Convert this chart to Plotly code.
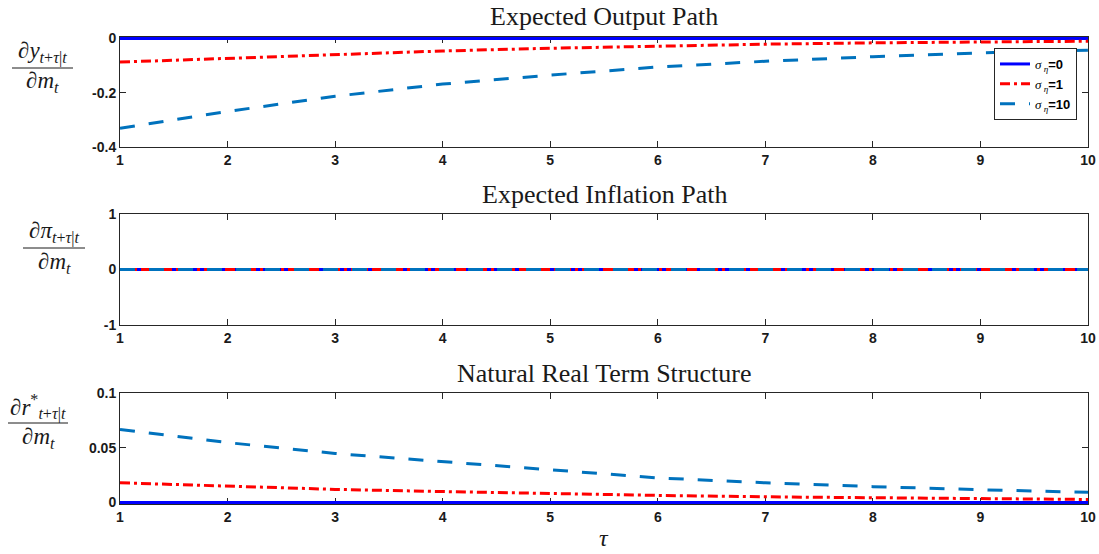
import plotly.graph_objects as go

# Horizon of the forecast
tau = [1, 2, 3, 4, 5, 6, 7, 8, 9, 10]

# Expected output path responses
output_s0 = [0, 0, 0, 0, 0, 0, 0, 0, 0, 0]
output_s1 = [-0.087, -0.074, -0.059, -0.046, -0.036, -0.028, -0.021, -0.016, -0.012, -0.010]
output_s10 = [-0.331, -0.269, -0.213, -0.168, -0.135, -0.105, -0.084, -0.067, -0.053, -0.043]

# Expected inflation path responses
infl_s0 = [0, 0, 0, 0, 0, 0, 0, 0, 0, 0]
infl_s1 = [0, 0, 0, 0, 0, 0, 0, 0, 0, 0]
infl_s10 = [0, 0, 0, 0, 0, 0, 0, 0, 0, 0]

# Natural real term structure responses
rstar_s0 = [0, 0, 0, 0, 0, 0, 0, 0, 0, 0]
rstar_s1 = [0.018, 0.015, 0.012, 0.010, 0.008, 0.0065, 0.0052, 0.0042, 0.0034, 0.0028]
rstar_s10 = [0.0667, 0.0547, 0.0448, 0.0372, 0.0300, 0.0225, 0.0180, 0.0145, 0.0117, 0.0093]

SIG = '<span style="font-family:Liberation Serif"><i>σ</i></span>'
ETA = '<sub><span style="font-family:Liberation Serif"><i> η</i></span></sub>'
legend_labels = [SIG + ETA + "<b>=0</b>", SIG + ETA + "<b>=1</b>", SIG + ETA + "<b>=10</b>"]

W, H = 1099, 554
ML, MR, MT, MB = 120, 11, 37, 50
PW = W - ML - MR
PH = H - MT - MB


def px(xp):
    return (xp - ML) / PW


def py(yp):
    return (H - MB - yp) / PH


styles = [
    dict(color="#0000ff", width=3),
    dict(color="#ff0000", width=3, dash="10px,4px,3px,4px"),
    dict(color="#0072bd", width=3, dash="15px,14px"),
]

panels = [
    ([output_s0, output_s1, output_s10], "", ""),
    ([infl_s0, infl_s1, infl_s10], "2", "2"),
    ([rstar_s0, rstar_s1, rstar_s10], "3", "3"),
]

fig = go.Figure()
for p_i, (series, xs, ys) in enumerate(panels):
    for s_i, vals in enumerate(series):
        fig.add_trace(go.Scatter(
            x=tau, y=vals, mode="lines",
            name=legend_labels[s_i],
            line=styles[s_i],
            showlegend=(p_i == 0),
            xaxis="x" + xs, yaxis="y" + ys,
        ))

frame = "#262626"
tickfont = dict(family="Liberation Sans", size=14, color="#1a1a1a", weight="bold")


def xax(anchor):
    return dict(
        range=[1, 10], tickvals=tau, ticktext=[str(t) for t in tau],
        ticks="inside", ticklen=6, tickcolor=frame, showline=True,
        linecolor=frame, linewidth=1, mirror="ticks", showgrid=False,
        zeroline=False, tickfont=tickfont, anchor=anchor,
        layer="below traces", domain=[0, 1], automargin=False,
    )


def yax(rng, vals, text, dom, anchor):
    return dict(
        range=rng, tickvals=vals, ticktext=text, ticks="inside", ticklen=6,
        tickcolor=frame, showline=True, linecolor=frame, linewidth=1,
        mirror="ticks", showgrid=False, zeroline=False, tickfont=tickfont,
        domain=dom, anchor=anchor, layer="below traces", automargin=False,
    )


fig.update_layout(
    width=W, height=H,
    margin=dict(l=ML, r=MR, t=MT, b=MB, autoexpand=False),
    paper_bgcolor="white", plot_bgcolor="white",
    xaxis=xax("y"), xaxis2=xax("y2"), xaxis3=xax("y3"),
    yaxis=yax([-0.4, 0.0055], [0, -0.2, -0.4], ["0", "-0.2", "-0.4"],
              [py(147), 1.0], "x"),
    yaxis2=yax([-1, 1], [1, 0, -1], ["1", "0", "-1"], [py(325), py(214)], "x2"),
    yaxis3=yax([-0.00135, 0.1], [0, 0.05, 0.1], ["0", "0.05", "0.1"],
               [0, py(393)], "x3"),
    legend=dict(
        x=px(1077), y=py(48), xanchor="right", yanchor="top",
        bgcolor="white", bordercolor=frame, borderwidth=1,
        font=dict(family="Liberation Sans", size=13, color="black"),
        tracegroupgap=0,
    ),
    showlegend=True,
)

serif = "Liberation Serif"
annots = []

# Panel titles
for text, yc in [("Expected Output Path", 17),
                 ("Expected Inflation Path", 194),
                 ("Natural Real Term Structure", 373)]:
    annots.append(dict(text=text, x=px(604), y=py(yc), xref="paper", yref="paper",
                       showarrow=False, xanchor="center", yanchor="middle",
                       font=dict(family=serif, size=26, color="#1a1a1a")))

# Horizon axis label
annots.append(dict(text="<i>τ</i>", x=px(604), y=py(538), xref="paper", yref="paper",
                   showarrow=False, xanchor="center", yanchor="middle",
                   font=dict(family=serif, size=24, color="#1a1a1a")))

# Fraction-style y labels
fracs = [
    ("∂<i>y</i><sub><i>t</i>+<i>τ</i>|<i>t</i></sub>", 42, 52, 68, 82, 12, 73),
    ("∂<i>π</i><sub><i>t</i>+<i>τ</i>|<i>t</i></sub>", 54, 232, 248, 263, 23, 85),
    ("∂<i>r</i><sup>*</sup><sub><i>t</i>+<i>τ</i>|<i>t</i></sub>", 38, 407, 423, 438, 8, 68),
]
shapes = []
for num, xc, yn, yl, yd, x0, x1 in fracs:
    annots.append(dict(text=num, x=px(xc), y=py(yn), xref="paper", yref="paper",
                       showarrow=False, xanchor="center", yanchor="middle",
                       font=dict(family=serif, size=23, color="#1a1a1a")))
    annots.append(dict(text="∂<i>m</i><sub><i>t</i></sub>", x=px(xc), y=py(yd),
                       xref="paper", yref="paper", showarrow=False,
                       xanchor="center", yanchor="middle",
                       font=dict(family=serif, size=23, color="#1a1a1a")))
    shapes.append(dict(type="line", xref="paper", yref="paper",
                       x0=px(x0), x1=px(x1), y0=py(yl), y1=py(yl),
                       line=dict(color="#1a1a1a", width=1)))

fig.update_layout(annotations=annots, shapes=shapes)

fig.write_html("out.html")
